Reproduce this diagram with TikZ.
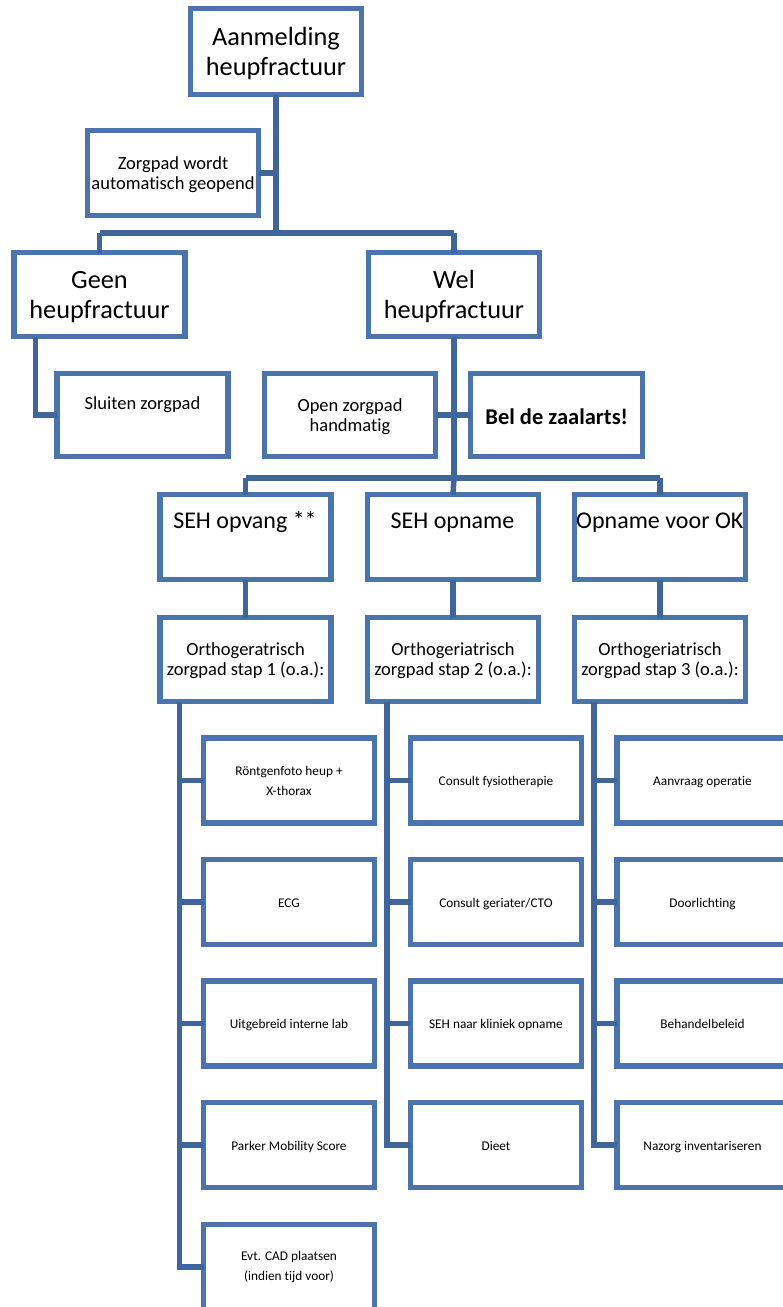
\documentclass[tikz,border=0pt]{standalone}
\usepackage{fontspec}
\setmainfont{Carlito}[Ligatures=NoCommon]
\usetikzlibrary{calc}
\definecolor{boxblue}{RGB}{74,116,173}
\definecolor{lineblue}{RGB}{63,102,156}
\tikzset{
  x=1pt, y=-1pt,
  box/.style={draw=boxblue, line width=5.5pt, fill=white, inner sep=0pt, outer sep=0pt,
              minimum width=171pt, minimum height=85pt},
  conn/.style={draw=lineblue, line width=5.5pt},
  big/.style={anchor=base, align=center, inner sep=0pt, font=\fontsize{26.3}{30}\selectfont},
  mid/.style={anchor=base, align=center, inner sep=0pt, font=\fontsize{24}{28}\selectfont},
  med/.style={anchor=base, align=center, inner sep=0pt, font=\fontsize{18.5}{20}\selectfont},
  boldtxt/.style={anchor=base, align=center, inner sep=0pt, font=\fontsize{22.5}{26}\selectfont\bfseries},
  small/.style={anchor=base, align=center, inner sep=0pt, font=\fontsize{13.3}{19.5}\selectfont},
}
\begin{document}
\begin{tikzpicture}
\useasboundingbox (0,0) rectangle (783,1307);
\begin{scope}
\clip (0,0) rectangle (783,1307);
% junction coordinates
\coordinate (barA) at (276,233);
\coordinate (barL) at (99.5,233);
\coordinate (barR) at (454,233);
\coordinate (zj) at (276,173);
\coordinate (bar2) at (454,478);
\coordinate (bar2L) at (245.6,478);
\coordinate (bar2R) at (660,478);

% boxes
\node[box, minimum height=86pt] (top) at (276,51.5) {};
\node[box] (zorg) at (173,173) {};
\node[box, minimum height=84pt] (geen) at (99.5,294.5) {};
\node[box, minimum height=84pt] (wel) at (454,294.5) {};
\node[box, minimum height=83pt] (sluit) at (142.5,415) {};
\node[box, minimum height=83pt] (open) at (350,415) {};
\node[box, minimum height=83pt, minimum width=172pt] (bel) at (556.5,415) {};
\node[box] (seh1) at (245.6,537) {};
\node[box] (seh2) at (453,537) {};
\node[box] (seh3) at (660,537) {};
\node[box, minimum height=84pt] (st1) at (245.6,659.5) {};
\node[box, minimum height=84pt] (st2) at (453,659.5) {};
\node[box, minimum height=84pt] (st3) at (660,659.5) {};

\foreach \c/\x in {a/289, b/496, c/702.5}{
  \foreach \r/\y in {1/780.5, 2/902, 3/1023.5, 4/1145}{
    \node[box] (s\c\r) at (\x,\y) {};
  }
}
\node[box] (sa5) at (289,1267) {};

\coordinate (gtop) at ($(geen.south west)+(21.5,0)$);
\coordinate (c1) at ($(st1.south west)+(19.3,0)$);
\coordinate (c2) at ($(st2.south west)+(19.3,0)$);
\coordinate (c3) at ($(st3.south west)+(19.3,0)$);

% connectors
\draw[conn] (top.south) -- (barA);
\draw[conn] (zorg.east) -- (zj);
\draw[conn] (barL) -- (barR);
\draw[conn] (barL) -- (geen.north);
\draw[conn] (barR) -- (wel.north);
\draw[conn] (gtop) |- (sluit.west);
\draw[conn] (wel.south) -- (bar2);
\draw[conn] (open.east) -- (bel.west);
\draw[conn] (bar2L) -- (bar2R);
\draw[conn] (bar2L) -- (seh1.north);
\draw[conn] (bar2) -- (seh2.north);
\draw[conn] (bar2R) -- (seh3.north);
\draw[conn] (seh1.south) -- (st1.north);
\draw[conn] (seh2.south) -- (st2.north);
\draw[conn] (seh3.south) -- (st3.north);
\draw[conn] (c1) |- (sa5.west);
\foreach \r in {1,2,3,4}{ \draw[conn] (c1 |- sa\r.west) -- (sa\r.west); }
\draw[conn] (c2) |- (sb4.west);
\foreach \r in {1,2,3}{ \draw[conn] (c2 |- sb\r.west) -- (sb\r.west); }
\draw[conn] (c3) |- (sc4.west);
\foreach \r in {1,2,3}{ \draw[conn] (c3 |- sc\r.west) -- (sc\r.west); }
\end{scope}

% texts (base anchor = baseline of the last line)
\node[big] (ttop) at (276,75) {Aanmelding\\heupfractuur};
\node[med] (tzorg) at (173,189.3) {Zorgpad wordt\\automatisch geopend};
\node[big] (tgeen) at (99.5,318.3) {Geen\\heupfractuur};
\node[big] (twel) at (454,318.3) {Wel\\heupfractuur};
\node[med] (tsluit) at (142.5,409.3) {Sluiten zorgpad};
\node[med] (topen) at (350,431.7) {Open zorgpad\\handmatig};
\node[boldtxt] (tbel) at (556.7,424.3) {Bel de zaalarts!};
\node[mid] (tseh1) at (245,528.3) {SEH opvang **};
\node[mid] (tseh2) at (452.5,528.3) {SEH opname};
\node[mid] (tseh3) at (659.8,528.3) {Opname voor OK};
\node[med] (tst1) at (245.6,675) {Orthogeratrisch\\zorgpad stap 1 (o.a.):};
\node[med] (tst2) at (453,675) {Orthogeriatrisch\\zorgpad stap 2 (o.a.):};
\node[med] (tst3) at (660,675) {Orthogeriatrisch\\zorgpad stap 3 (o.a.):};

\node[small] (tsa1) at (289,795) {Röntgenfoto heup +\\X-thorax};
\node[small] (tsa2) at (289,907) {ECG};
\node[small] (tsa3) at (289,1028.5) {Uitgebreid interne lab};
\node[small] (tsa4) at (289,1150) {Parker Mobility Score};
\node[small] (tsa5) at (289,1280) {Evt. CAD plaatsen\\(indien tijd voor)};
\node[small] (tsb1) at (496,785.5) {Consult fysiotherapie};
\node[small] (tsb2) at (496,907) {Consult geriater/CTO};
\node[small] (tsb3) at (496,1028.5) {SEH naar kliniek opname};
\node[small] (tsb4) at (496,1150) {Dieet};
\node[small] (tsc1) at (702.5,785.5) {Aanvraag operatie};
\node[small] (tsc2) at (702.5,907) {Doorlichting};
\node[small] (tsc3) at (702.5,1028.5) {Behandelbeleid};
\node[small] (tsc4) at (702.5,1150) {Nazorg inventariseren};
\end{tikzpicture}
\end{document}
